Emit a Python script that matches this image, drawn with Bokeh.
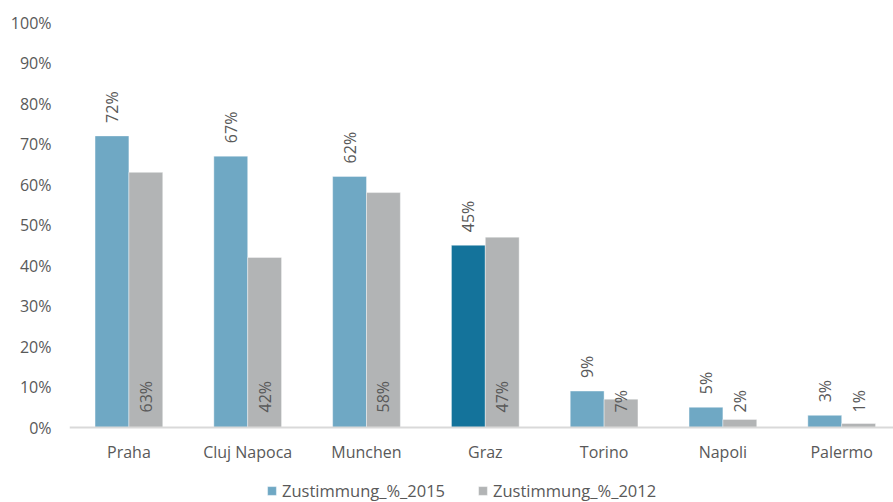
import numpy as np
from bokeh.plotting import figure
from bokeh.models import ColumnDataSource, Legend, LegendItem, FixedTicker, NumeralTickFormatter, Range1d, Span
from bokeh.core.properties import value
from bokeh.embed import file_html
from bokeh.resources import INLINE

cities = ["Praha", "Cluj Napoca", "Munchen", "Graz", "Torino", "Napoli", "Palermo"]
v2015 = [0.72, 0.67, 0.62, 0.45, 0.09, 0.05, 0.03]
v2012 = [0.63, 0.42, 0.58, 0.47, 0.07, 0.02, 0.01]
highlight = "Graz"
yticks = [0.0, 0.1, 0.2, 0.3, 0.4, 0.5, 0.6, 0.7, 0.8, 0.9, 1.0]

FONT = "Open Sans"
TXT = "#595959"
C15 = "#6FA8C4"
C15H = "#14739B"
C12 = "#B2B4B5"

W, H = 893, 502
LEFT, TOP, BASE = 69, 22, 427          # frame left, 100% line, 0% line (px)
PX_PER_UNIT = (BASE - TOP) / 1.0
PX_PER_CAT = 118.8

xc = np.arange(len(cities)) + 0.5
bw = 0.285
src15 = ColumnDataSource(dict(
    x=xc - bw / 2, top=v2015,
    color=[C15H if c == highlight else C15 for c in cities],
    lbl=[f"{round(v*100)}%" for v in v2015]))
src12 = ColumnDataSource(dict(
    x=xc + bw / 2, top=v2012, zero=[0] * len(cities),
    lbl=[f"{round(v*100)}%" for v in v2012]))
srccat = ColumnDataSource(dict(x=xc, zero=[0] * len(cities), name=cities))

p = figure(width=W, height=H, output_backend="svg", toolbar_location=None,
           x_range=Range1d(0, (W - LEFT) / PX_PER_CAT),
           y_range=Range1d(-(H - BASE) / PX_PER_UNIT, 1.0),
           min_border_left=LEFT, min_border_right=0, min_border_top=TOP, min_border_bottom=0)
p.outline_line_color = None
p.grid.visible = False
p.xaxis.visible = False

r15 = p.vbar(x="x", top="top", width=bw, color="color", source=src15, line_color="#FFFFFF", line_alpha=0.4)
r12 = p.vbar(x="x", top="top", width=bw, color=C12, source=src12, line_color="#FFFFFF", line_alpha=0.4)

p.add_layout(Span(location=0, dimension="width", line_color="#D9D9D9", line_width=2))

p.text(x="x", y="top", text="lbl", source=src15, angle=np.pi / 2, text_align="left",
       text_baseline="middle", y_offset=-13, text_font=value(FONT), text_font_size="16px", text_color=TXT)
p.text(x="x", y="zero", text="lbl", source=src12, angle=np.pi / 2, text_align="left",
       text_baseline="middle", y_offset=-15, text_font=value(FONT), text_font_size="16px", text_color=TXT)
# category labels under the 0% line
p.text(x="x", y="zero", text="name", source=srccat, text_align="center", text_baseline="middle",
       y_offset=24, text_font=value(FONT), text_font_size="16px", text_color=TXT)

p.yaxis.ticker = FixedTicker(ticks=yticks)
p.yaxis.formatter = NumeralTickFormatter(format="0%")
p.yaxis.axis_line_color = None
p.yaxis.major_tick_line_color = None
p.yaxis.minor_tick_line_color = None
p.yaxis.major_tick_out = 0
p.yaxis.major_label_standoff = 18
p.yaxis.major_label_text_font = FONT
p.yaxis.major_label_text_font_size = "16px"
p.yaxis.major_label_text_color = TXT

legend = Legend(items=[LegendItem(label="Zustimmung_%_2015", renderers=[r15], index=0),
                       LegendItem(label="Zustimmung_%_2012", renderers=[r12])],
                orientation="horizontal", location=(197, 0),
                label_text_font=FONT, label_text_font_size="16.5px", label_text_color=TXT,
                glyph_width=11, glyph_height=11, label_standoff=5, spacing=32, padding=0, margin=0,
                border_line_color=None, background_fill_alpha=0)
p.add_layout(legend, "center")

open("out.html", "w").write(file_html(p, INLINE))
